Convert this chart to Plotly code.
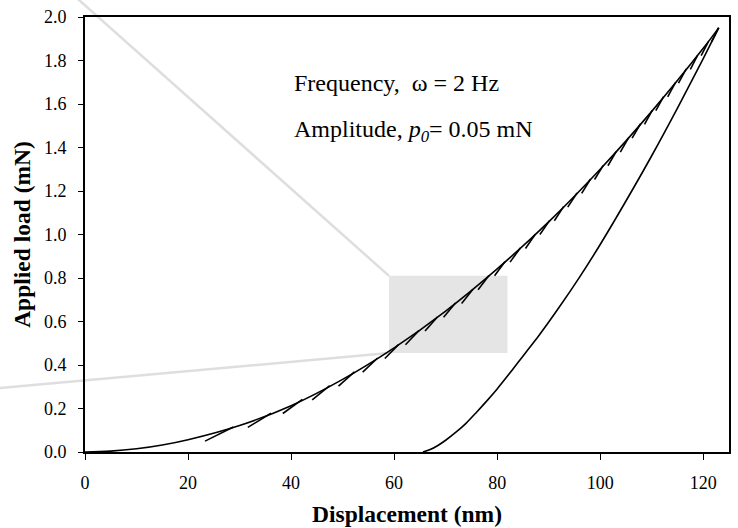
import plotly.graph_objects as go

# ---- data ----
load_x = [0, 5, 10, 15, 20, 30, 40, 50, 60, 70, 80, 90, 100, 110, 120, 123]
load_y = [0, 0.0038, 0.0146, 0.0323, 0.0565, 0.122, 0.213, 0.334, 0.479, 0.648, 0.842, 1.058, 1.300, 1.566, 1.856, 1.95]

unload_x = [65.6, 67, 68.5, 70, 72, 74, 76, 78, 80, 82, 84, 86, 88, 92, 96, 100, 105, 110, 115, 120, 123]
unload_y = [0.0, 0.011, 0.030, 0.054, 0.091, 0.133, 0.183, 0.235, 0.290, 0.349, 0.410, 0.471, 0.532, 0.664, 0.804, 0.954, 1.154, 1.362, 1.581, 1.809, 1.95]

# oscillation segments: bottom (start) and top (end) points
seg_x0 = [23.3, 31.6, 38.4, 44.1, 49.2, 53.9, 58.2, 62.2, 66.0, 69.6, 73.1, 76.3, 79.5, 82.5, 85.5,
          88.3, 91.1, 93.7, 96.4, 98.9, 101.5, 103.9, 106.2, 108.6, 110.8, 113.1, 115.2, 117.5, 119.6, 121.6]
seg_y0 = [0.050, 0.113, 0.177, 0.240, 0.303, 0.367, 0.430, 0.493, 0.556, 0.620, 0.683, 0.746, 0.810, 0.873, 0.936,
          1.000, 1.063, 1.126, 1.189, 1.253, 1.316, 1.379, 1.443, 1.506, 1.569, 1.633, 1.696, 1.759, 1.822, 1.886]
seg_x1 = [28.8, 36.1, 42.2, 47.5, 52.3, 56.8, 60.9, 64.8, 68.4, 71.9, 75.3, 78.4, 81.5, 84.5, 87.4,
          90.2, 92.9, 95.5, 98.1, 100.6, 103.1, 105.5, 107.8, 110.1, 112.3, 114.6, 116.7, 118.9, 121.0, 123.0]
seg_y1 = [0.115, 0.178, 0.242, 0.305, 0.368, 0.432, 0.495, 0.558, 0.621, 0.685, 0.748, 0.811, 0.875, 0.938, 1.001,
          1.065, 1.128, 1.191, 1.254, 1.318, 1.381, 1.444, 1.508, 1.571, 1.634, 1.698, 1.761, 1.824, 1.887, 1.951]

zoom_box = dict(x0=59.0, x1=82.0, y0=0.455, y1=0.81)

x_ticks = [0, 20, 40, 60, 80, 100, 120]
y_ticks = [0.0, 0.2, 0.4, 0.6, 0.8, 1.0, 1.2, 1.4, 1.6, 1.8, 2.0]
X_MAX, Y_MAX = 125, 2.0

FONT = "Liberation Serif, Times New Roman, serif"

sx, sy = [], []
for a, b, c, d in zip(seg_x0, seg_y0, seg_x1, seg_y1):
    sx += [a, c, None]
    sy += [b, d, None]

fig = go.Figure()
fig.add_trace(go.Scatter(x=load_x, y=load_y, mode="lines", line=dict(color="black", width=1.6, shape="spline"),
                         showlegend=False, hoverinfo="skip"))
fig.add_trace(go.Scatter(x=unload_x, y=unload_y, mode="lines",
                         line=dict(color="black", width=1.6, shape="spline", smoothing=0.8),
                         showlegend=False, hoverinfo="skip"))
fig.add_trace(go.Scatter(x=sx, y=sy, mode="lines", line=dict(color="black", width=1.6),
                         showlegend=False, hoverinfo="skip", connectgaps=False))

# zoom box
fig.add_shape(type="rect", xref="x", yref="y", x0=zoom_box["x0"], x1=zoom_box["x1"],
              y0=zoom_box["y0"], y1=zoom_box["y1"], fillcolor="#e5e5e5", line=dict(width=0), layer="below")
# connector lines (paper coordinates, extend past the plot)
bx = zoom_box["x0"] / X_MAX
fig.add_shape(type="line", xref="paper", yref="paper", x0=bx, y0=zoom_box["y1"] / Y_MAX, x1=-0.098, y1=1.156,
              line=dict(color="#dedede", width=2.5), layer="below")
fig.add_shape(type="line", xref="paper", yref="paper", x0=bx, y0=zoom_box["y0"] / Y_MAX, x1=-0.21, y1=0.137,
              line=dict(color="#dedede", width=2.5), layer="below")

fig.add_annotation(x=40.2, y=1.695, xref="x", yref="y", xanchor="left", yanchor="middle", showarrow=False,
                   text="Frequency,\u00a0\u00a0ω = 2 Hz", font=dict(family=FONT, size=24, color="black"))
fig.add_annotation(x=40.2, y=1.475, xref="x", yref="y", xanchor="left", yanchor="middle", showarrow=False,
                   text="Amplitude,\u00a0<i>p</i><sub><i>0</i></sub>= 0.05 mN", font=dict(family=FONT, size=24, color="black"))

fig.update_layout(
    width=738, height=528,
    margin=dict(l=85, r=9, t=17, b=76, autoexpand=False),
    paper_bgcolor="white", plot_bgcolor="rgba(0,0,0,0)",
    font=dict(family=FONT, color="black"),
)
fig.update_xaxes(range=[0, X_MAX], tickvals=x_ticks, ticktext=[str(v) for v in x_ticks],
                 ticks="outside", ticklen=6, tickwidth=1, tickcolor="black",
                 showline=True, linecolor="black", linewidth=1.6, mirror=True,
                 showgrid=False, zeroline=False, ticklabelstandoff=8,
                 tickfont=dict(family=FONT, size=18, color="black"),
                 title=dict(text="<b>Displacement (nm)</b>", font=dict(family=FONT, size=23.5, color="black"), standoff=13))
fig.update_yaxes(range=[0, Y_MAX], tickvals=y_ticks, ticktext=[f"{v:.1f}" for v in y_ticks],
                 ticks="outside", ticklen=5, tickwidth=1, tickcolor="black",
                 showline=True, linecolor="black", linewidth=1.6, mirror=True,
                 showgrid=False, zeroline=False, ticklabelstandoff=8,
                 tickfont=dict(family=FONT, size=18, color="black"),
                 title=dict(text="<b>Applied load (mN)</b>", font=dict(family=FONT, size=23.5, color="black"), standoff=7))

fig.write_html("out.html")
